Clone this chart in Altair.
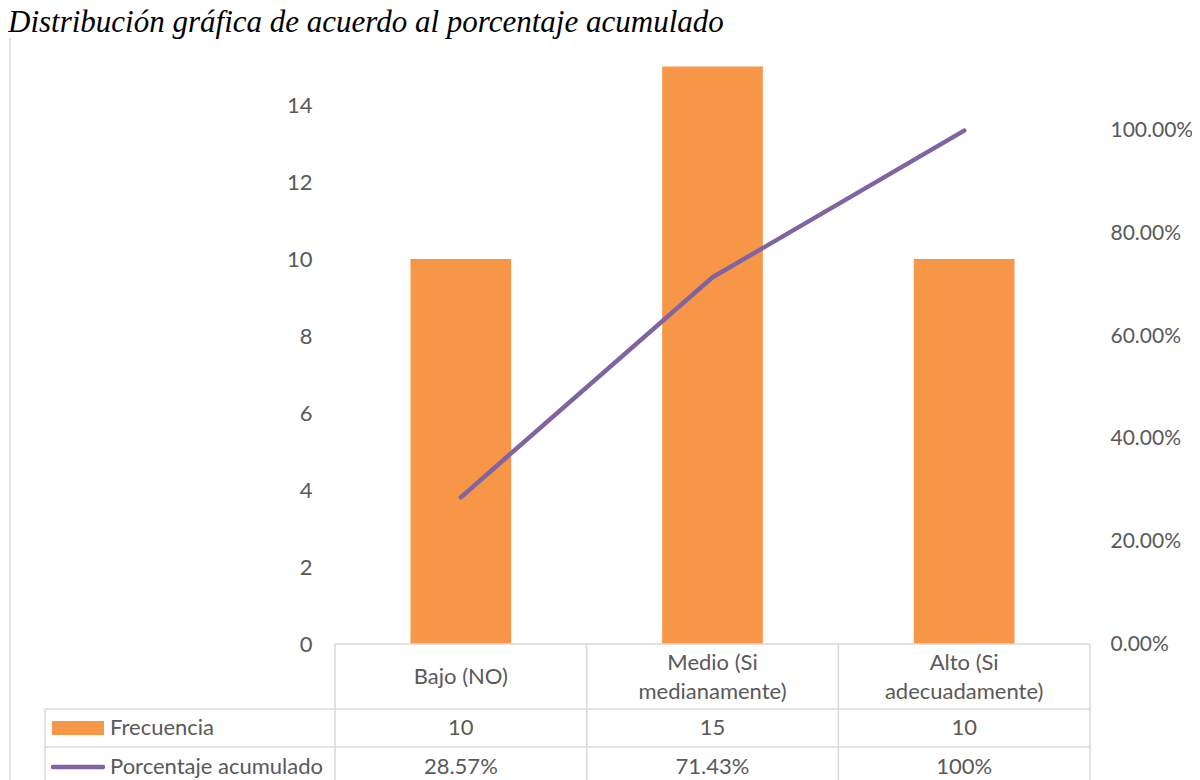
import altair as alt
import pandas as pd

categories = ["Bajo (NO)", "Medio (Si medianamente)", "Alto (Si adecuadamente)"]
header_labels = ["Bajo (NO)", "Medio (Si\nmedianamente)", "Alto (Si\nadecuadamente)"]
frecuencia = [10, 15, 10]
porcentaje = [0.2857, 0.7143, 1.0]
porcentaje_text = ["28.57%", "71.43%", "100%"]
left_ticks = [0, 2, 4, 6, 8, 10, 12, 14]
right_ticks = [0.0, 0.2, 0.4, 0.6, 0.8, 1.0]
title_text = "Distribución gráfica de acuerdo al porcentaje acumulado"

df = pd.DataFrame({
    "cat": categories,
    "header": header_labels,
    "freq": frecuencia,
    "pct": porcentaje,
    "pct_text": porcentaje_text,
})

W, H = 755, 616
FONT = "Lato"
FS = 22
TXT = "#595959"
GRID = "#D9D9D9"
ORANGE = "#F79646"
PURPLE = "#8064A2"

xenc = alt.X("cat:N", sort=categories, axis=None,
             scale=alt.Scale(paddingInner=0.6, paddingOuter=0.3))

base = alt.Chart(df)

bars = base.mark_bar(color=ORANGE).encode(
    x=xenc,
    y=alt.Y("freq:Q", scale=alt.Scale(domain=[0, 16], nice=False),
            axis=alt.Axis(values=left_ticks, title=None, domain=False, ticks=False,
                          grid=False, labelPadding=23, labelFontSize=FS,
                          labelColor=TXT, labelFont=FONT, orient="left")),
)

line = base.mark_line(color=PURPLE, strokeWidth=4.5, strokeCap="round").encode(
    x=xenc,
    y=alt.Y("pct:Q", scale=alt.Scale(domain=[0, 1.2], nice=False),
            axis=alt.Axis(values=right_ticks, format=".2%", title=None, domain=False,
                          ticks=False, grid=False, labelPadding=20, labelFontSize=21,
                          labelColor=TXT, labelFont=FONT, orient="right")),
)

bars_line = alt.layer(bars, line).resolve_scale(y="independent")

one = alt.Data(values=[{}])


def hrule(x1, x2, y, color=GRID, w=1.5):
    return alt.Chart(one).mark_rule(color=color, strokeWidth=w).encode(
        x=alt.value(x1), x2=alt.value(x2), y=alt.value(y), y2=alt.value(y))


def vrule(x, y1, y2, color=GRID, w=1.5):
    return alt.Chart(one).mark_rule(color=color, strokeWidth=w).encode(
        x=alt.value(x), x2=alt.value(x), y=alt.value(y1), y2=alt.value(y2))


step = W / 3
grid_layers = [
    hrule(0, W, H),
    hrule(-290, W, 681),
    hrule(-290, W, 719),
    vrule(-290, 681, 760),
    vrule(0, H, 760),
    vrule(step, H, 760),
    vrule(2 * step, H, 760),
    vrule(W, H, 760),
    vrule(-325, 10, 760),
]

header_one = base.transform_filter("indexof(datum.header, '\\n') < 0").mark_text(
    fontSize=FS, font=FONT, color=TXT, baseline="middle").encode(
    x=xenc, y=alt.value(649), text="header:N")
header_two = base.transform_filter("indexof(datum.header, '\\n') >= 0").mark_text(
    fontSize=FS, font=FONT, color=TXT, lineBreak="\n", lineHeight=29,
    baseline="middle").encode(
    x=xenc, y=alt.value(635), text="header:N")
freq_txt = base.mark_text(fontSize=FS, font=FONT, color=TXT, baseline="middle").encode(
    x=xenc, y=alt.value(700), text="freq:Q")
pct_txt = base.mark_text(fontSize=FS, font=FONT, color=TXT, baseline="middle").encode(
    x=xenc, y=alt.value(739), text="pct_text:N")

swatch = alt.Chart(one).mark_rect(color=ORANGE).encode(
    x=alt.value(-283), x2=alt.value(-231), y=alt.value(693), y2=alt.value(707))
swatch_line = alt.Chart(one).mark_rule(color=PURPLE, strokeWidth=4.5, strokeCap="round").encode(
    x=alt.value(-282), x2=alt.value(-232), y=alt.value(739), y2=alt.value(739))
leg1 = alt.Chart(alt.Data(values=[{"t": "Frecuencia"}])).mark_text(
    fontSize=FS, font=FONT, color=TXT, align="left", baseline="middle").encode(
    x=alt.value(-225), y=alt.value(700), text="t:N")
leg2 = alt.Chart(alt.Data(values=[{"t": "Porcentaje acumulado"}])).mark_text(
    fontSize=FS, font=FONT, color=TXT, align="left", baseline="middle").encode(
    x=alt.value(-225), y=alt.value(739), text="t:N")

title = alt.Chart(alt.Data(values=[{"t": title_text}])).mark_text(
    fontSize=31, font="Liberation Serif", fontStyle="italic", color="#000000",
    align="left", baseline="alphabetic").encode(
    x=alt.value(-327), y=alt.value(4), text="t:N")

chart = alt.layer(
    bars_line, *grid_layers, header_one, header_two, freq_txt, pct_txt,
    swatch, swatch_line, leg1, leg2, title
).properties(
    width=W, height=H,
    autosize=alt.AutoSizeParams(type="none"),
    padding={"left": 327, "top": 20, "right": 102, "bottom": 136},
).configure_view(stroke=None)

chart.save("out.html", embed_options={"renderer": "svg", "actions": False})
